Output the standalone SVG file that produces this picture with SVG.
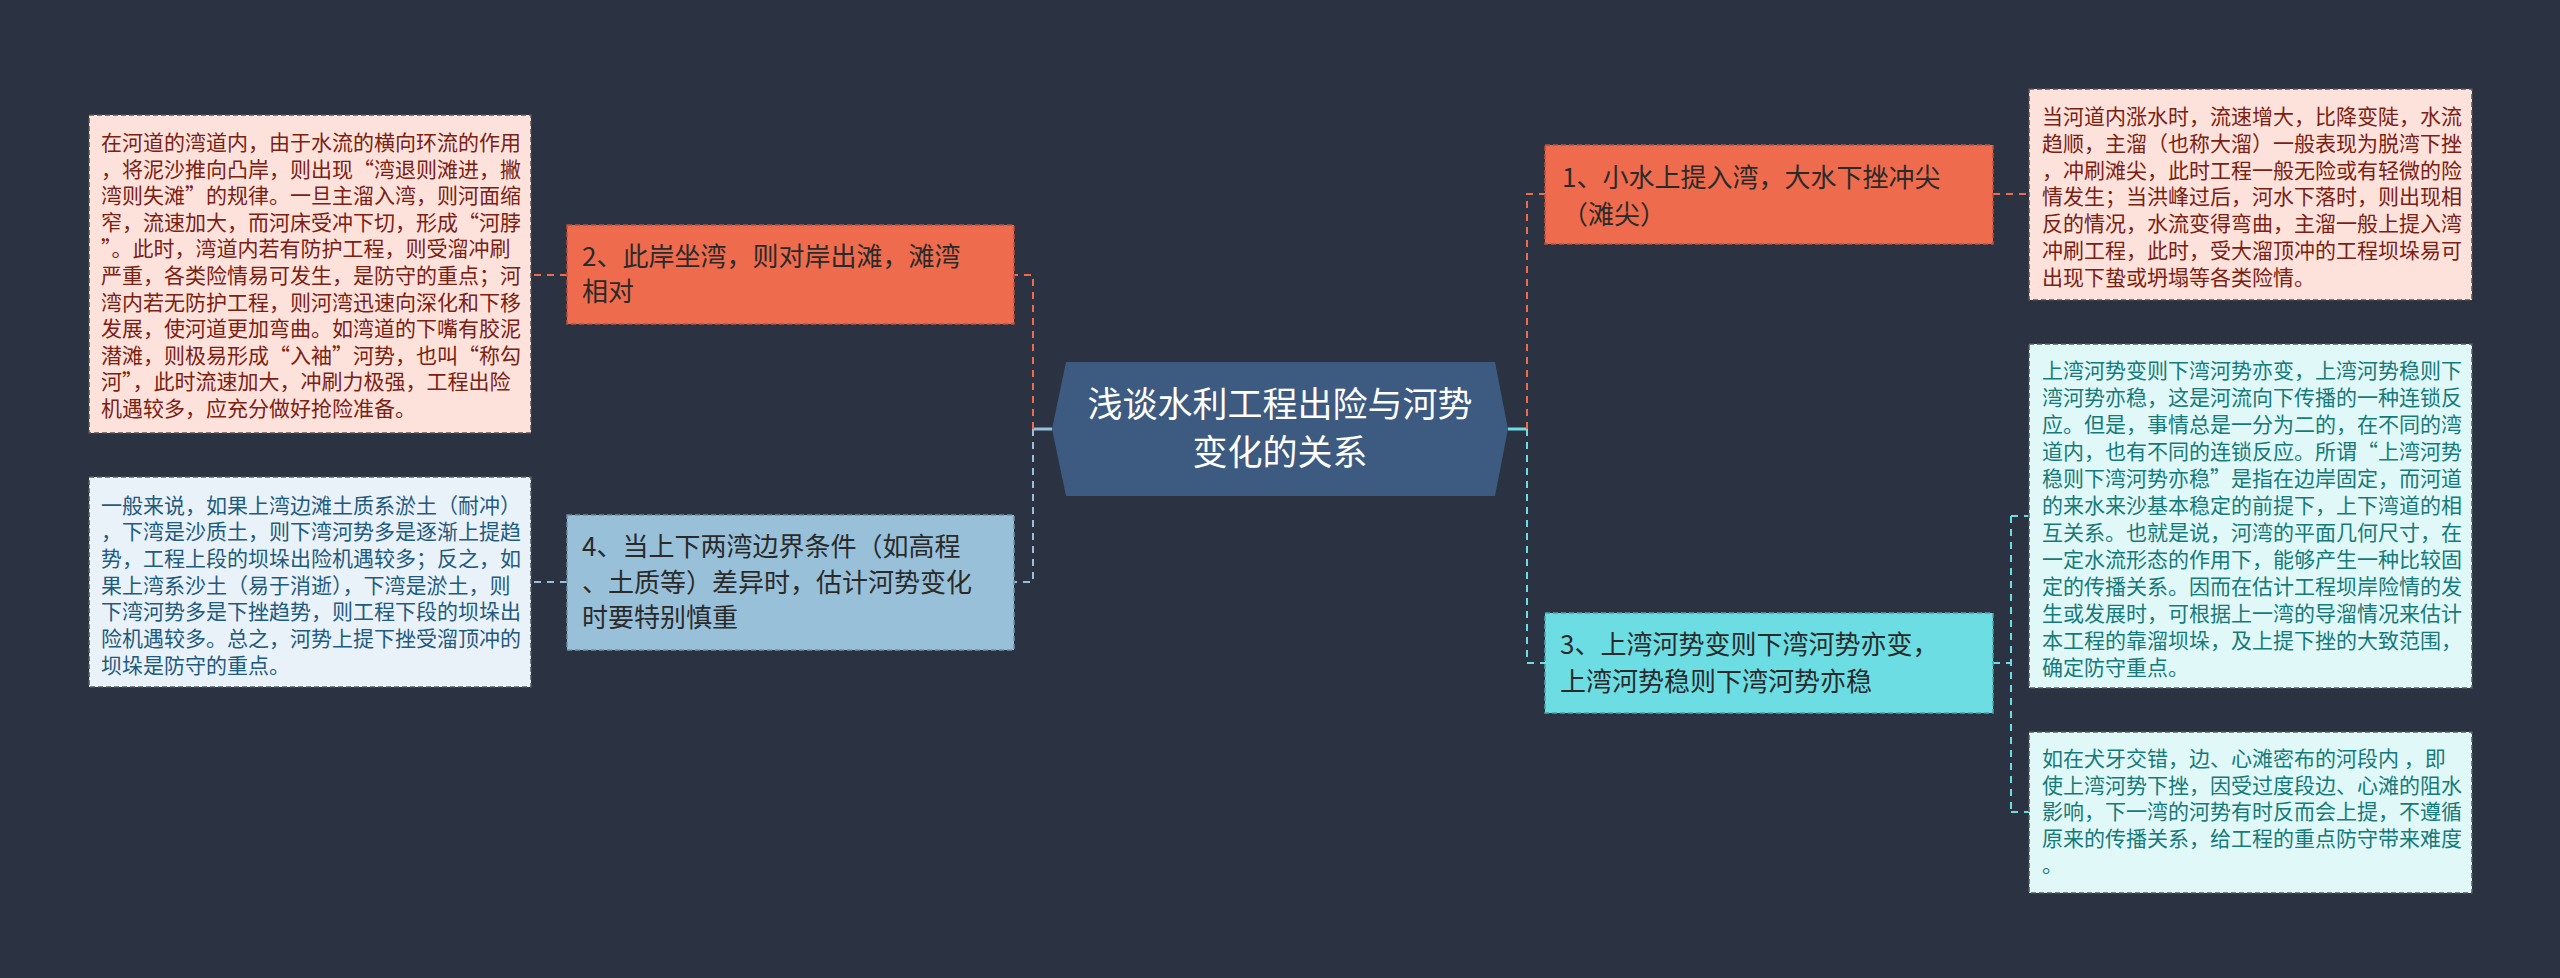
<svg xmlns="http://www.w3.org/2000/svg" width="2560" height="978" viewBox="0 0 2560 978">
<style>
text{font-family:"Noto Sans CJK SC","Noto Sans",sans-serif}
.bg{fill:#2b3241}
.c-or{fill:none;stroke:#ee6c4d;stroke-width:2;stroke-dasharray:7 6}
.c-bl{fill:none;stroke:#98c1d9;stroke-width:2;stroke-dasharray:7 6}
.c-cy{fill:none;stroke:#6cdde3;stroke-width:2;stroke-dasharray:7 6}
.s-bl{fill:none;stroke:#98c1d9;stroke-width:3}
.s-cy{fill:none;stroke:#6cdde3;stroke-width:3}
.n-or{fill:#ee6c4d;stroke:#b9503a;stroke-width:1.5;stroke-dasharray:5 3}
.n-bl{fill:#98c1d9;stroke:#6f90a6;stroke-width:1.5;stroke-dasharray:5 3}
.n-cy{fill:#6cdde3;stroke:#4aa3a8;stroke-width:1.5;stroke-dasharray:5 3}
.d-pk{fill:#fde2dc;stroke:#5a5050;stroke-width:1.5;stroke-dasharray:5 3}
.d-bl{fill:#e9f2f8;stroke:#505a60;stroke-width:1.5;stroke-dasharray:5 3}
.d-cy{fill:#e0f8f8;stroke:#505a5a;stroke-width:1.5;stroke-dasharray:5 3}
.nt{font-size:26px;fill:#2a2a2a}
.t-pk{font-size:21px;fill:#7a2113}
.t-bl{font-size:21px;fill:#1f5a80}
.t-cy{font-size:21px;fill:#167a7a}
.ct{font-size:35px;fill:#ffffff;text-anchor:middle}
</style>
<rect class="bg" x="0" y="0" width="2560" height="978"/>
<g id="connectors">
<path class="s-bl" d="M1052,429 H1033"/>
<path class="c-or" d="M1033,429 V275 H1014"/>
<path class="c-bl" d="M1033,429 V582 H1014"/>
<path class="c-or" d="M567,275 H531"/>
<path class="c-bl" d="M567,582 H531"/>
<path class="s-cy" d="M1508,429 H1527"/>
<path class="c-or" d="M1527,429 V194 H1545"/>
<path class="c-cy" d="M1527,429 V663 H1545"/>
<path class="c-or" d="M1993,194 H2029"/>
<path class="c-cy" d="M1993,663 H2011"/>
<path class="c-cy" d="M2011,516 V812 M2011,516 H2029 M2011,812 H2029"/>
</g>
<g id="center">
<polygon points="1066,362 1495,362 1508,429 1495,496 1066,496 1052,429" fill="#3d5a80"/>
<text class="ct" x="1280" y="417">浅谈水利工程出险与河势</text>
<text class="ct" x="1280" y="465">变化的关系</text>
</g>
<g id="node1">
<rect class="n-or" x="1545" y="145" width="448" height="99"/>
<text class="nt" x="1562" y="187">1、小水上提入湾，大水下挫冲尖</text>
<text class="nt" x="1562" y="224">（滩尖）</text>
</g>
<g id="node2">
<rect class="n-or" x="567" y="225" width="447" height="99"/>
<text class="nt" x="582" y="266">2、此岸坐湾，则对岸出滩，滩湾</text>
<text class="nt" x="582" y="301">相对</text>
</g>
<g id="node3">
<rect class="n-cy" x="1545" y="613" width="448" height="100"/>
<text class="nt" x="1560" y="654">3、上湾河势变则下湾河势亦变，</text>
<text class="nt" x="1560" y="691">上湾河势稳则下湾河势亦稳</text>
</g>
<g id="node4">
<rect class="n-bl" x="567" y="515" width="447" height="135"/>
<text class="nt" x="582" y="556">4、当上下两湾边界条件（如高程</text>
<text class="nt" x="582" y="592">、土质等）差异时，估计河势变化</text>
<text class="nt" x="582" y="627">时要特别慎重</text>
</g>
<g id="detail2">
<rect class="d-pk" x="89" y="115" width="442" height="318"/>
<text class="t-pk" x="101" y="150">在河道的湾道内，由于水流的横向环流的作用</text>
<text class="t-pk" x="101" y="176.6">，将泥沙推向凸岸，则出现“湾退则滩进，撇</text>
<text class="t-pk" x="101" y="203.2">湾则失滩”的规律。一旦主溜入湾，则河面缩</text>
<text class="t-pk" x="101" y="229.8">窄，流速加大，而河床受冲下切，形成“河脖</text>
<text class="t-pk" x="101" y="256.4">”。此时，湾道内若有防护工程，则受溜冲刷</text>
<text class="t-pk" x="101" y="283">严重，各类险情易可发生，是防守的重点；河</text>
<text class="t-pk" x="101" y="309.6">湾内若无防护工程，则河湾迅速向深化和下移</text>
<text class="t-pk" x="101" y="336.2">发展，使河道更加弯曲。如湾道的下嘴有胶泥</text>
<text class="t-pk" x="101" y="362.8">潜滩，则极易形成“入袖”河势，也叫“称勾</text>
<text class="t-pk" x="101" y="389.4">河”，此时流速加大，冲刷力极强，工程出险</text>
<text class="t-pk" x="101" y="416">机遇较多，应充分做好抢险准备。</text>
</g>
<g id="detail4">
<rect class="d-bl" x="89" y="477" width="442" height="210"/>
<text class="t-bl" x="101" y="512.5">一般来说，如果上湾边滩土质系淤土（耐冲）</text>
<text class="t-bl" x="101" y="539.2">，下湾是沙质土，则下湾河势多是逐渐上提趋</text>
<text class="t-bl" x="101" y="565.8">势，工程上段的坝垛出险机遇较多；反之，如</text>
<text class="t-bl" x="101" y="592.5">果上湾系沙土（易于消逝），下湾是淤土，则</text>
<text class="t-bl" x="101" y="619.2">下湾河势多是下挫趋势，则工程下段的坝垛出</text>
<text class="t-bl" x="101" y="645.8">险机遇较多。总之，河势上提下挫受溜顶冲的</text>
<text class="t-bl" x="101" y="672.5">坝垛是防守的重点。</text>
</g>
<g id="detail1">
<rect class="d-pk" x="2029" y="89" width="443" height="211"/>
<text class="t-pk" x="2042" y="124">当河道内涨水时，流速增大，比降变陡，水流</text>
<text class="t-pk" x="2042" y="150.8">趋顺，主溜（也称大溜）一般表现为脱湾下挫</text>
<text class="t-pk" x="2042" y="177.6">，冲刷滩尖，此时工程一般无险或有轻微的险</text>
<text class="t-pk" x="2042" y="204.4">情发生；当洪峰过后，河水下落时，则出现相</text>
<text class="t-pk" x="2042" y="231.2">反的情况，水流变得弯曲，主溜一般上提入湾</text>
<text class="t-pk" x="2042" y="258">冲刷工程，此时，受大溜顶冲的工程坝垛易可</text>
<text class="t-pk" x="2042" y="284.8">出现下蛰或坍塌等各类险情。</text>
</g>
<g id="detail3a">
<rect class="d-cy" x="2029" y="344" width="443" height="344"/>
<text class="t-cy" x="2042" y="377.5">上湾河势变则下湾河势亦变，上湾河势稳则下</text>
<text class="t-cy" x="2042" y="404.5">湾河势亦稳，这是河流向下传播的一种连锁反</text>
<text class="t-cy" x="2042" y="431.5">应。但是，事情总是一分为二的，在不同的湾</text>
<text class="t-cy" x="2042" y="458.5">道内，也有不同的连锁反应。所谓“上湾河势</text>
<text class="t-cy" x="2042" y="485.5">稳则下湾河势亦稳”是指在边岸固定，而河道</text>
<text class="t-cy" x="2042" y="512.5">的来水来沙基本稳定的前提下，上下湾道的相</text>
<text class="t-cy" x="2042" y="539.5">互关系。也就是说，河湾的平面几何尺寸，在</text>
<text class="t-cy" x="2042" y="566.5">一定水流形态的作用下，能够产生一种比较固</text>
<text class="t-cy" x="2042" y="593.5">定的传播关系。因而在估计工程坝岸险情的发</text>
<text class="t-cy" x="2042" y="620.5">生或发展时，可根据上一湾的导溜情况来估计</text>
<text class="t-cy" x="2042" y="647.5">本工程的靠溜坝垛，及上提下挫的大致范围，</text>
<text class="t-cy" x="2042" y="674.5">确定防守重点。</text>
</g>
<g id="detail3b">
<rect class="d-cy" x="2029" y="732" width="443" height="161"/>
<text class="t-cy" x="2042" y="766">如在犬牙交错，边、心滩密布的河段内 ，即</text>
<text class="t-cy" x="2042" y="792.6">使上湾河势下挫，因受过度段边、心滩的阻水</text>
<text class="t-cy" x="2042" y="819.2">影响，下一湾的河势有时反而会上提，不遵循</text>
<text class="t-cy" x="2042" y="845.8">原来的传播关系，给工程的重点防守带来难度</text>
<text class="t-cy" x="2042" y="872.4">。</text>
</g>
</svg>
